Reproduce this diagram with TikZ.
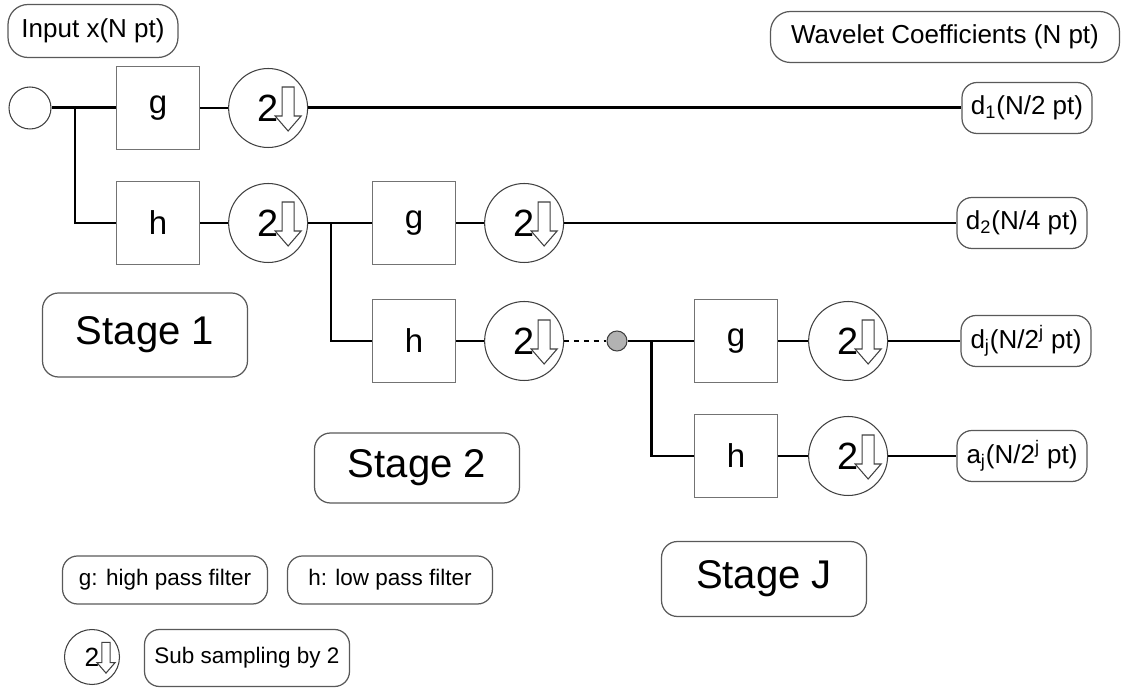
\documentclass[tikz,border=0pt]{standalone}
\usepackage{fontspec}
\setmainfont{Liberation Sans}
\usetikzlibrary{positioning}

% hollow down arrow inside a sub sampling circle
\newcommand{\dnarrow}[2][1]{%
  \draw[black!75, line width=0.6pt, fill=white, shift={(#2.center)}, scale=#1]
    (14,-21) -- (26,-21) -- (26,8) -- (33,8) -- (20,23) -- (7,8) -- (14,8) -- cycle;}

\begin{document}
\begin{tikzpicture}[x=0.02cm, y=-0.02cm,
    filt/.style={draw=black!55, line width=0.7pt, minimum size=1.66cm, font=\fontsize{18.8}{20}\selectfont},
    ds/.style={circle, draw=black!75, line width=0.6pt, minimum size=1.58cm, inner sep=0pt, font=\fontsize{21.6}{24}\selectfont},
    lbl/.style={draw=black!65, line width=0.7pt, rounded corners=0.3cm, minimum width=2.6cm, minimum height=1.02cm, font=\fontsize{14.8}{16}\selectfont},
    stg/.style={draw=black!65, line width=0.7pt, rounded corners=0.32cm, minimum width=4.1cm, font=\fontsize{22.8}{26}\selectfont},
    leg/.style={draw=black!65, line width=0.7pt, rounded corners=0.3cm, minimum width=4.1cm, font=\fontsize{12.8}{14}\selectfont},
    thk/.style={line width=1.7pt},
    thn/.style={line width=1pt}
  ]
    \useasboundingbox (0,0) rectangle (1122,688);

    % titles
    \node[lbl, minimum width=3.4cm, minimum height=1.06cm, rounded corners=0.4cm] (inp) at (93,31) {Input x(N pt)};
    \node[lbl, minimum width=6.98cm, rounded corners=0.4cm] (wc) at (945,37) {Wavelet Coefficients (N pt)};

    % stage 1
    \node[circle, draw=black!75, line width=0.6pt, minimum size=0.84cm] (in) at (30,108) {};
    \node[filt] (g1) at (158,108) {g};
    \node[filt] (h1) at (158,223) {h};
    \node[ds, right=0.56cm of g1] (ds1) {2};
    \node[ds, right=0.56cm of h1] (ds2) {2};

    % stage 2
    \node[filt] (g2) at (414,223) {g};
    \node[filt] (h2) at (414,341) {h};
    \node[ds, right=0.56cm of g2] (ds3) {2};
    \node[ds, right=0.56cm of h2] (ds4) {2};

    % stage J
    \node[circle, draw=black!75, fill=black!30, line width=0.6pt, minimum size=0.4cm, inner sep=0pt] (dot) at (617,341) {};
    \node[filt] (g3) at (736,341) {g};
    \node[filt] (h3) at (736,456) {h};
    \node[ds, right=0.6cm of g3] (ds5) {2};
    \node[ds, right=0.6cm of h3] (ds6) {2};

    % outputs
    \node[lbl] (d1) at (1027,108) {d\textsubscript{1}(N/2 pt)};
    \node[lbl] (d2) at (1022,223) {d\textsubscript{2}(N/4 pt)};
    \node[lbl] (dj) at (1026,341) {d\textsubscript{j}(N/2\textsuperscript{j} pt)};
    \node[lbl] (aj) at (1022,456) {a\textsubscript{j}(N/2\textsuperscript{j} pt)};

    % stage names
    \node[stg, minimum height=1.68cm] (s1) at (145,335) {Stage 1};
    \node[stg, minimum height=1.4cm] (s2) at (417,468) {Stage 2};
    \node[stg, minimum height=1.5cm] (sj) at (764,579) {Stage J};

    % legend
    \node[leg, minimum height=0.96cm] (lg) at (165,580) {g: high pass filter};
    \node[leg, minimum height=0.96cm] (lh) at (390,580) {h: low pass filter};
    \node[ds, minimum size=1.1cm, font=\fontsize{15}{17}\selectfont] (lds) at (92,657) {2};
    \node[leg, minimum height=1.14cm] (ls) at (247,658) {Sub sampling by 2};

    % connections
    \coordinate (b1) at (75,108);
    \coordinate (b2) at (331,223);
    \coordinate (b3) at (651,341);
    \draw[thk] (in) -- (g1);
    \draw[thk] (b1) |- (h1);
    \draw[thn] (g1) -- (ds1);
    \draw[thk] (ds1) -- (d1);
    \draw[thn] (h1) -- (ds2);
    \draw[thk] (ds2) -- (g2);
    \draw[thk] (b2) |- (h2);
    \draw[thn] (g2) -- (ds3);
    \draw[thk] (ds3) -- (d2);
    \draw[thn] (h2) -- (ds4);
    \draw[thn, dash pattern=on 2.8pt off 2.8pt] (ds4) -- (dot);
    \draw[thk] (dot) -- (g3);
    \draw[thk] (b3) |- (h3);
    \draw[thn] (g3) -- (ds5);
    \draw[thk] (ds5) -- (dj);
    \draw[thn] (h3) -- (ds6);
    \draw[thk] (ds6) -- (aj);

    % arrows of the sub samplers
    \dnarrow{ds1}
    \dnarrow{ds2}
    \dnarrow{ds3}
    \dnarrow{ds4}
    \dnarrow{ds5}
    \dnarrow{ds6}
    \dnarrow[0.7]{lds}
\end{tikzpicture}
\end{document}
